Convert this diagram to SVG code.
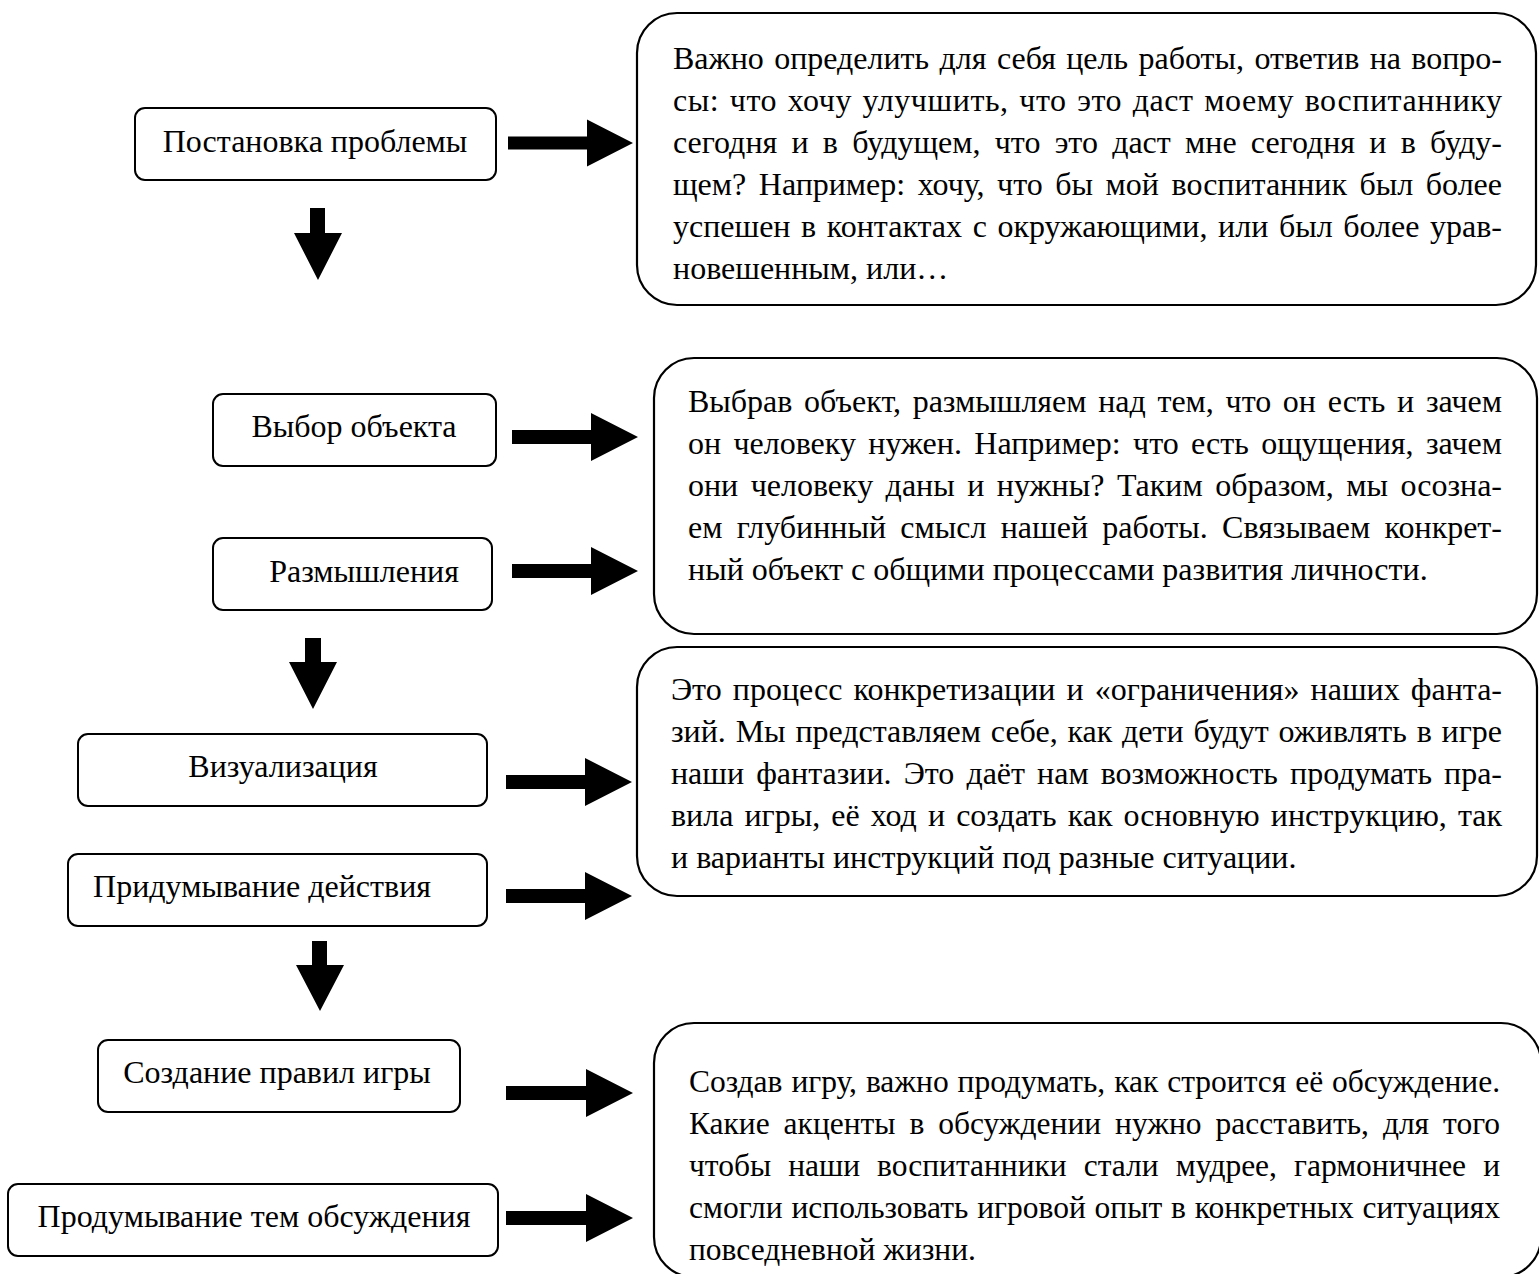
<svg xmlns="http://www.w3.org/2000/svg" width="1539" height="1274" viewBox="0 0 1539 1274">
<style>
.sbox{fill:#fff;stroke:#000;stroke-width:2}
.bbox{fill:#fff;stroke:#000;stroke-width:2.2}
.lbl{font-family:"Liberation Serif","Times New Roman",serif;font-size:32px;fill:#000;text-anchor:middle}
.para{font-family:"Liberation Serif","Times New Roman",serif;font-size:32px;fill:#000}
.pd{font-size:31.5px}
.arr{fill:#000}
</style>
<rect width="1539" height="1274" fill="#fff"/>
<g id="n1"><rect class="sbox" x="135" y="108" width="361" height="72" rx="10"/><text class="lbl" x="315" y="152">Постановка проблемы</text></g>
<g id="n2"><rect class="sbox" x="213" y="394" width="283" height="72" rx="10"/><text class="lbl" x="354" y="437">Выбор объекта</text></g>
<g id="n3"><rect class="sbox" x="213" y="538" width="279" height="72" rx="10"/><text class="lbl" x="364" y="582">Размышления</text></g>
<g id="n4"><rect class="sbox" x="78" y="734" width="409" height="72" rx="10"/><text class="lbl" x="283" y="777">Визуализация</text></g>
<g id="n5"><rect class="sbox" x="68" y="854" width="419" height="72" rx="10"/><text class="lbl" x="262" y="897">Придумывание действия</text></g>
<g id="n6"><rect class="sbox" x="98" y="1040" width="362" height="72" rx="10"/><text class="lbl" x="277" y="1083">Создание правил игры</text></g>
<g id="n7"><rect class="sbox" x="8" y="1184" width="490" height="72" rx="10"/><text class="lbl" x="254" y="1227">Продумывание тем обсуждения</text></g>
<g id="dA"><rect class="bbox" x="637" y="13" width="899" height="292" rx="40"/>
<text class="para" x="673" y="69" word-spacing="2.4" textLength="829" lengthAdjust="spacing">Важно определить для себя цель работы, ответив на вопро-</text>
<text class="para" x="673" y="111" word-spacing="2" textLength="829" lengthAdjust="spacing">сы: что хочу улучшить, что это даст моему воспитаннику</text>
<text class="para" x="673" y="153" word-spacing="6.3" textLength="829" lengthAdjust="spacing">сегодня и в будущем, что это даст мне сегодня и в буду-</text>
<text class="para" x="673" y="195" word-spacing="4.6" textLength="829" lengthAdjust="spacing">щем? Например: хочу, что бы мой воспитанник был более</text>
<text class="para" x="673" y="237" word-spacing="2.6" textLength="829" lengthAdjust="spacing">успешен в контактах с окружающими, или был более урав-</text>
<text class="para" x="673" y="279">новешенным, или…</text></g>
<g id="dB"><rect class="bbox" x="654" y="358" width="883" height="276" rx="40"/>
<text class="para" x="688" y="412" word-spacing="3.7" textLength="814" lengthAdjust="spacing">Выбрав объект, размышляем над тем, что он есть и зачем</text>
<text class="para" x="688" y="454" word-spacing="4.4" textLength="814" lengthAdjust="spacing">он человеку нужен. Например: что есть ощущения, зачем</text>
<text class="para" x="688" y="496" word-spacing="4.5" textLength="814" lengthAdjust="spacing">они человеку даны и нужны? Таким образом, мы осозна-</text>
<text class="para" x="688" y="538" word-spacing="6.3" textLength="814" lengthAdjust="spacing">ем глубинный смысл нашей работы. Связываем конкрет-</text>
<text class="para" x="688" y="580">ный объект с общими процессами развития личности.</text></g>
<g id="dC"><rect class="bbox" x="637" y="647" width="900" height="249" rx="40"/>
<text class="para" x="671" y="700" word-spacing="3.2" textLength="831" lengthAdjust="spacing">Это процесс конкретизации и «ограничения» наших фанта-</text>
<text class="para" x="671" y="742" word-spacing="1.9" textLength="831" lengthAdjust="spacing">зий. Мы представляем себе, как дети будут оживлять в игре</text>
<text class="para" x="671" y="784" word-spacing="4.1" textLength="831" lengthAdjust="spacing">наши фантазии. Это даёт нам возможность продумать пра-</text>
<text class="para" x="671" y="826" word-spacing="3.1" textLength="831" lengthAdjust="spacing">вила игры, её ход и создать как основную инструкцию, так</text>
<text class="para" x="671" y="868">и варианты инструкций под разные ситуации.</text></g>
<g id="dD"><rect class="bbox" x="654" y="1023" width="887" height="254" rx="40"/>
<text class="para pd" x="689" y="1092" word-spacing="1.1" textLength="811" lengthAdjust="spacing">Создав игру, важно продумать, как строится её обсуждение.</text>
<text class="para pd" x="689" y="1134" word-spacing="6.1" textLength="811" lengthAdjust="spacing">Какие акценты в обсуждении нужно расставить, для того</text>
<text class="para pd" x="689" y="1176" word-spacing="9.2" textLength="811" lengthAdjust="spacing">чтобы наши воспитанники стали мудрее, гармоничнее и</text>
<text class="para pd" x="689" y="1218" word-spacing="1" textLength="811" lengthAdjust="spacing">смогли использовать игровой опыт в конкретных ситуациях</text>
<text class="para pd" x="689" y="1260">повседневной жизни.</text></g>
<g id="connectors">
<path class="arr" d="M508 136.5H587V119.5L633 143L587 166.5V149.5H508Z"/>
<path class="arr" d="M512 430H591V413L638 437L591 461V444H512Z"/>
<path class="arr" d="M512 564H591V547L638 571L591 595V578H512Z"/>
<path class="arr" d="M506 775H585V758L632 782L585 806V789H506Z"/>
<path class="arr" d="M506 889H585V872L632 896L585 920V903H506Z"/>
<path class="arr" d="M506 1086H586V1069L633 1093L586 1117V1100H506Z"/>
<path class="arr" d="M506 1211H586V1194L633 1218L586 1242V1225H506Z"/>
<path class="arr" d="M310 208H325V233H342L318 280L294 233H310Z"/>
<path class="arr" d="M305 638H321V662H337L313 709L289 662H305Z"/>
<path class="arr" d="M312 941H327V965H344L320 1011L296 965H312Z"/>
</g>
</svg>
